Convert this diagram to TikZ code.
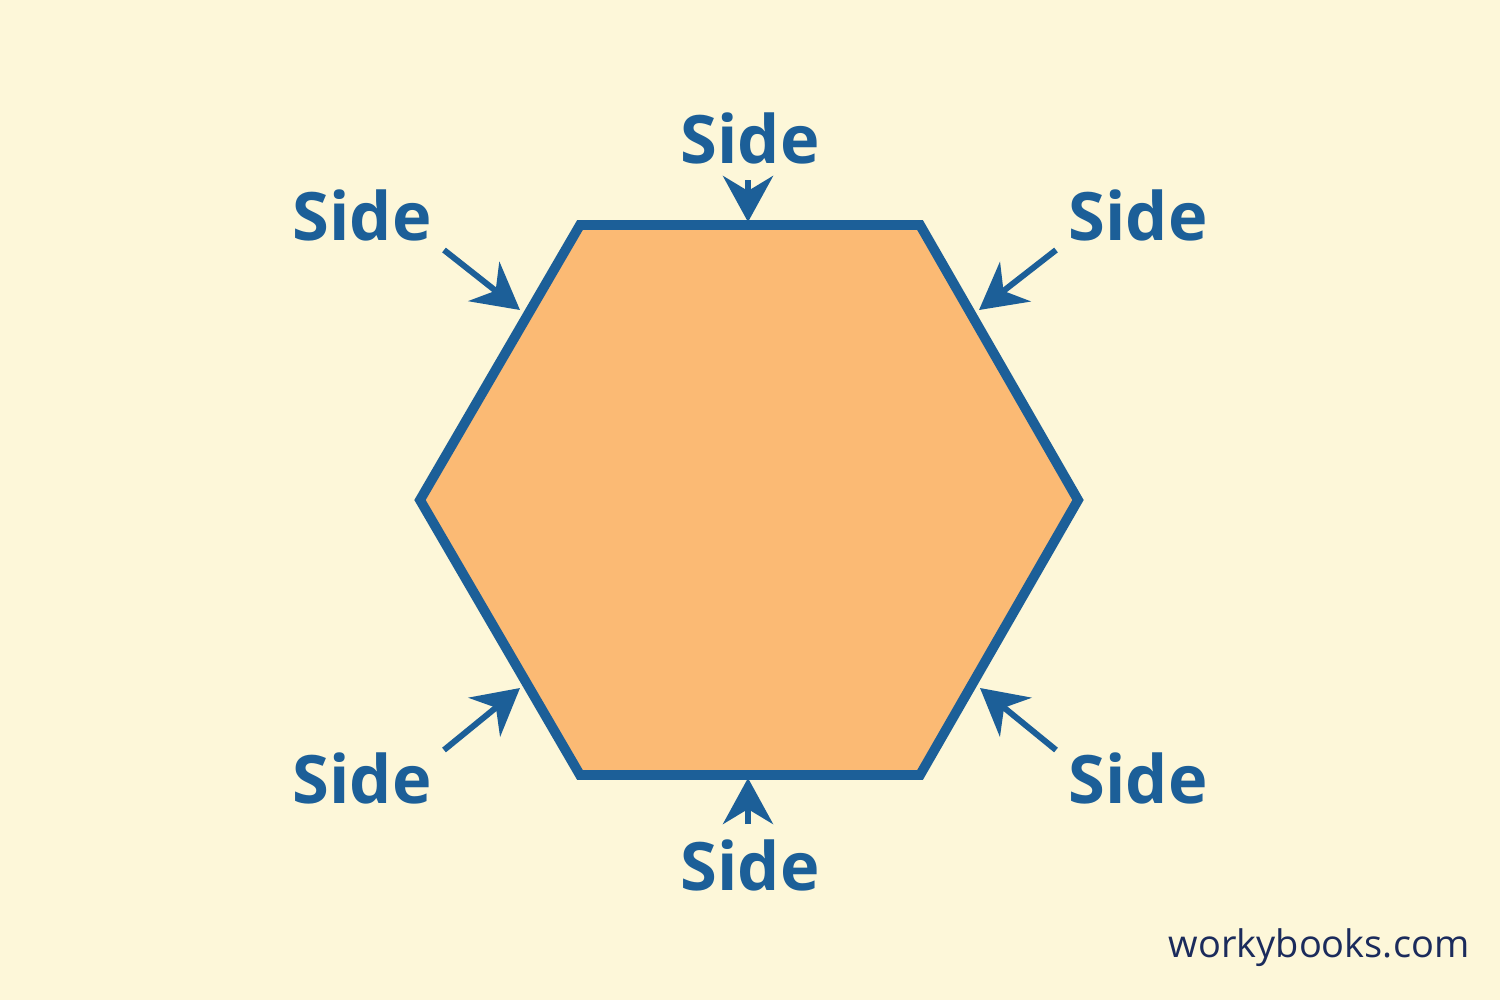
\documentclass[tikz,border=0pt]{standalone}
\usepackage{fontspec}
\setmainfont{Open Sans}
\usetikzlibrary{arrows.meta}
\definecolor{bgcream}{HTML}{FDF7D9}
\definecolor{sideblue}{HTML}{1C5F98}
\definecolor{hexfill}{HTML}{FBBA74}
\definecolor{marknavy}{HTML}{1B2B5C}
\begin{document}
\begin{tikzpicture}
        [x = 0.1mm, y = -0.1mm,
            > = {Stealth[length=4.6mm, width=5mm]},
            side label/.style = {text=sideblue, font=\fontsize{19}{23}\selectfont\bfseries, inner sep=0pt},
            side arrow/.style = {->, draw=sideblue, line width=1.7pt},
            hex edge/.style = {draw=sideblue, fill=hexfill, line width=2.8pt, line join=miter}]

        \fill[bgcream] (0,0) rectangle (1500,1000);

        % hexagon corners
        \coordinate (TL) at (580,225);
        \coordinate (TR) at (920,225);
        \coordinate (R) at (1078,500);
        \coordinate (BR) at (920,775);
        \coordinate (BL) at (580,775);
        \coordinate (L) at (420,500);
        \draw[hex edge] (TL) -- (TR) -- (R) -- (BR) -- (BL) -- (L) -- cycle;

        % labels
        \node[side label] (top) at (750,138) {Side};
        \node[side label] (topleft) at (362,215) {Side};
        \node[side label] (topright) at (1138,215) {Side};
        \node[side label] (botleft) at (362,778) {Side};
        \node[side label] (botright) at (1138,778) {Side};
        \node[side label] (bot) at (750,865) {Side};

        % arrow ends
        \coordinate (top s) at (748,180);
        \coordinate (top e) at (748,222);
        \coordinate (topleft s) at (444,250);
        \coordinate (topleft e) at (520,310);
        \coordinate (topright s) at (1056,250);
        \coordinate (topright e) at (979,310);
        \coordinate (botleft s) at (444,750);
        \coordinate (botleft e) at (520,688);
        \coordinate (botright s) at (1056,750);
        \coordinate (botright e) at (980,688);
        \coordinate (bot s) at (748,824);
        \coordinate (bot e) at (748,778);

        \foreach \n in {top, topleft, topright, botleft, botright, bot}
            \draw[side arrow] (\n\space s) -- (\n\space e);

        \node[text=marknavy, font=\fontsize{10.8}{13}\selectfont, inner sep=0pt, anchor=east] (mark) at (1470,948) {workybooks.com};
    \end{tikzpicture}
\end{document}
